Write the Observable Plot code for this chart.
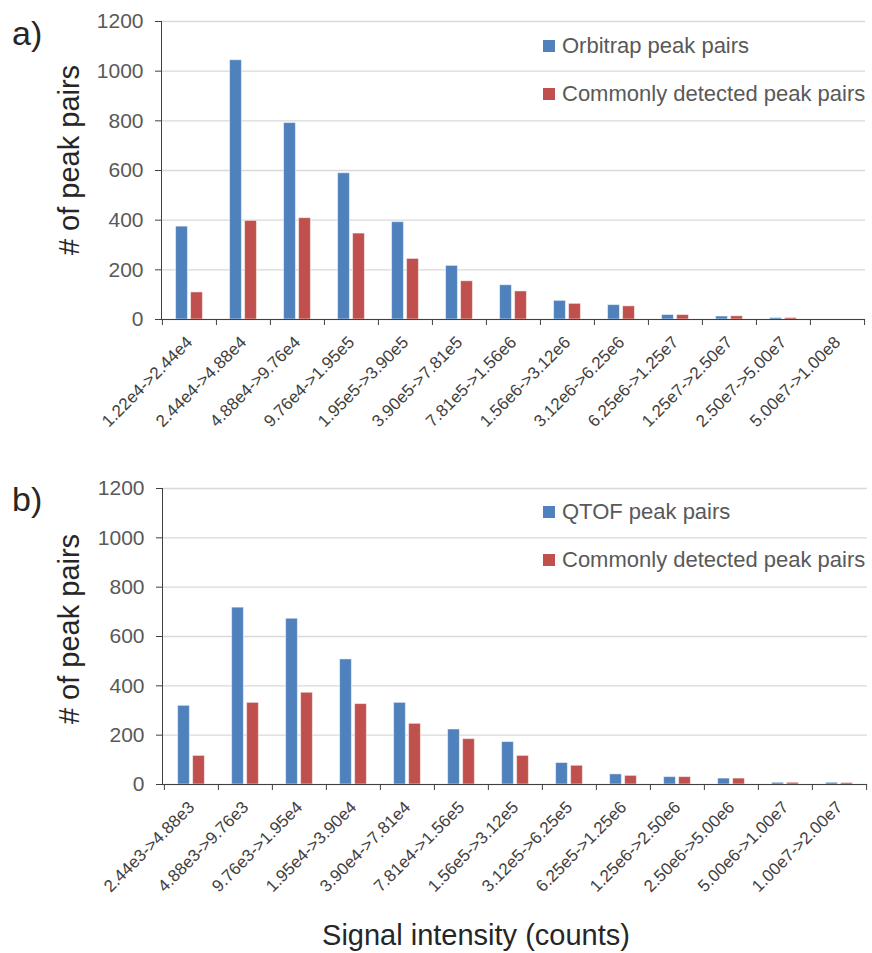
<!DOCTYPE html>
<html><head><meta charset="utf-8">
<script src="https://cdn.jsdelivr.net/npm/d3@7"></script>
<script src="https://cdn.jsdelivr.net/npm/@observablehq/plot@0.6"></script>
<style>
body{margin:0;background:#fff;font-family:"Liberation Sans",Arial,sans-serif;}
#wrap{position:relative;width:872px;height:953px;overflow:hidden;background:#fff;}
.abs{position:absolute;white-space:nowrap;line-height:1;}
.panel{position:absolute;left:0;}
.ylab{font-size:29px;color:#262626;transform:translate(-50%,-50%) rotate(-90deg);}
.plab{font-size:34px;color:#262626;}
.leg{font-size:22px;color:#595959;display:flex;align-items:center;}
.sw{width:12px;height:12px;display:inline-block;margin-right:7px;}
</style></head><body><div id="wrap"></div>
<script>
const catsA = ["1.22e4->2.44e4","2.44e4->4.88e4","4.88e4->9.76e4","9.76e4->1.95e5","1.95e5->3.90e5","3.90e5->7.81e5","7.81e5->1.56e6","1.56e6->3.12e6","3.12e6->6.25e6","6.25e6->1.25e7","1.25e7->2.50e7","2.50e7->5.00e7","5.00e7->1.00e8"];
const orbitrap = [374, 1044, 791, 589, 392, 216, 138, 75, 58, 18, 12, 6, 0];
const commonA  = [109, 397, 408, 346, 244, 154, 113, 63, 53, 18, 13, 6, 0];
const catsB = ["2.44e3->4.88e3","4.88e3->9.76e3","9.76e3->1.95e4","1.95e4->3.90e4","3.90e4->7.81e4","7.81e4->1.56e5","1.56e5->3.12e5","3.12e5->6.25e5","6.25e5->1.25e6","1.25e6->2.50e6","2.50e6->5.00e6","5.00e6->1.00e7","1.00e7->2.00e7"];
const qtof    = [319, 717, 672, 507, 331, 223, 172, 87, 41, 30, 24, 7, 7];
const commonB = [116, 331, 372, 326, 246, 184, 116, 76, 35, 30, 24, 7, 6];
const yTicks = [0, 200, 400, 600, 800, 1000, 1200];
const seriesNames = {a: ["Orbitrap peak pairs", "Commonly detected peak pairs"], b: ["QTOF peak pairs", "Commonly detected peak pairs"]};
const colors = ["#4f81bd", "#c0504d"];

const wrap = document.getElementById("wrap");
function add(html, cls, css) {
  const d = document.createElement("div");
  d.className = "abs " + cls;
  d.innerHTML = html;
  Object.assign(d.style, css);
  wrap.appendChild(d);
  return d;
}

function panel({cats, s1, s2, top, height, mt, mb, ml, mr}) {
  const W = 872;
  const bw = (W - ml - mr) / cats.length;
  const barW = 12, gap = 3;
  const start = (bw - 2 * barW - gap) / 2;
  const rows = cats.map((c, i) => ({c, a: s1[i], b: s2[i]}));
  const last = cats[cats.length - 1];
  const plot = Plot.plot({
    width: W, height, marginTop: mt, marginBottom: mb, marginLeft: ml, marginRight: mr,
    style: {fontFamily: "'Liberation Sans', Arial, sans-serif", background: "white", overflow: "visible"},
    x: {domain: cats, type: "band", padding: 0},
    y: {domain: [0, 1200]},
    marks: [
      Plot.gridY(yTicks, {stroke: "#d9d9d9", strokeOpacity: 1, strokeWidth: 1.3}),
      Plot.barY(rows, {x: "c", y: "a", fill: colors[0], stroke: "#fff", strokeOpacity: 0.5, strokeWidth: 1, insetLeft: start, insetRight: bw - start - barW}),
      Plot.barY(rows, {x: "c", y: "b", fill: colors[1], stroke: "#fff", strokeOpacity: 0.5, strokeWidth: 1, insetLeft: start + barW + gap, insetRight: start}),
      Plot.frame({anchor: "left", stroke: "#404040"}),
      Plot.ruleY([0], {stroke: "#404040"}),
      Plot.axisY(yTicks, {tickSize: 6, tickPadding: 12, fontSize: 21, fill: "#595959", stroke: "#404040", label: null, tickFormat: d => String(d)}),
      Plot.axisX({ticks: cats, tickSize: 6, tickFormat: () => "", dx: -bw / 2, stroke: "#404040", label: null}),
      Plot.axisX({ticks: [last], tickSize: 6, tickFormat: () => "", dx: bw / 2, stroke: "#404040", label: null}),
      Plot.axisX({tickSize: 0, tickPadding: 20, tickRotate: -45, fontSize: 17, fill: "#404040", label: null, dx: 0})
    ]
  });
  plot.classList.add("panel");
  plot.style.top = top + "px";
  wrap.appendChild(plot);
}

panel({cats: catsA, s1: orbitrap, s2: commonA, top: 0, height: 440, mt: 21, mb: 121, ml: 161, mr: 7});
panel({cats: catsB, s1: qtof, s2: commonB, top: 470, height: 440, mt: 18, mb: 126, ml: 162, mr: 5});

add("a)", "plab", {left: "12px", top: "16px"});
add("b)", "plab", {left: "12px", top: "482px"});
add("# of peak pairs", "ylab", {left: "69px", top: "160px"});
add("# of peak pairs", "ylab", {left: "69px", top: "629px"});
add("Signal intensity (counts)", "", {left: "476px", top: "935px", fontSize: "29px", color: "#262626", transform: "translate(-50%,-50%)"});

function legend(names, x, y1, y2) {
  [y1, y2].forEach((y, i) => {
    add(`<span class="sw" style="background:${colors[i]}"></span>${names[i]}`, "leg", {left: x + "px", top: (y - 11) + "px"});
  });
}
legend(seriesNames.a, 543, 46, 94);
legend(seriesNames.b, 543, 512, 560);
</script></body></html>
